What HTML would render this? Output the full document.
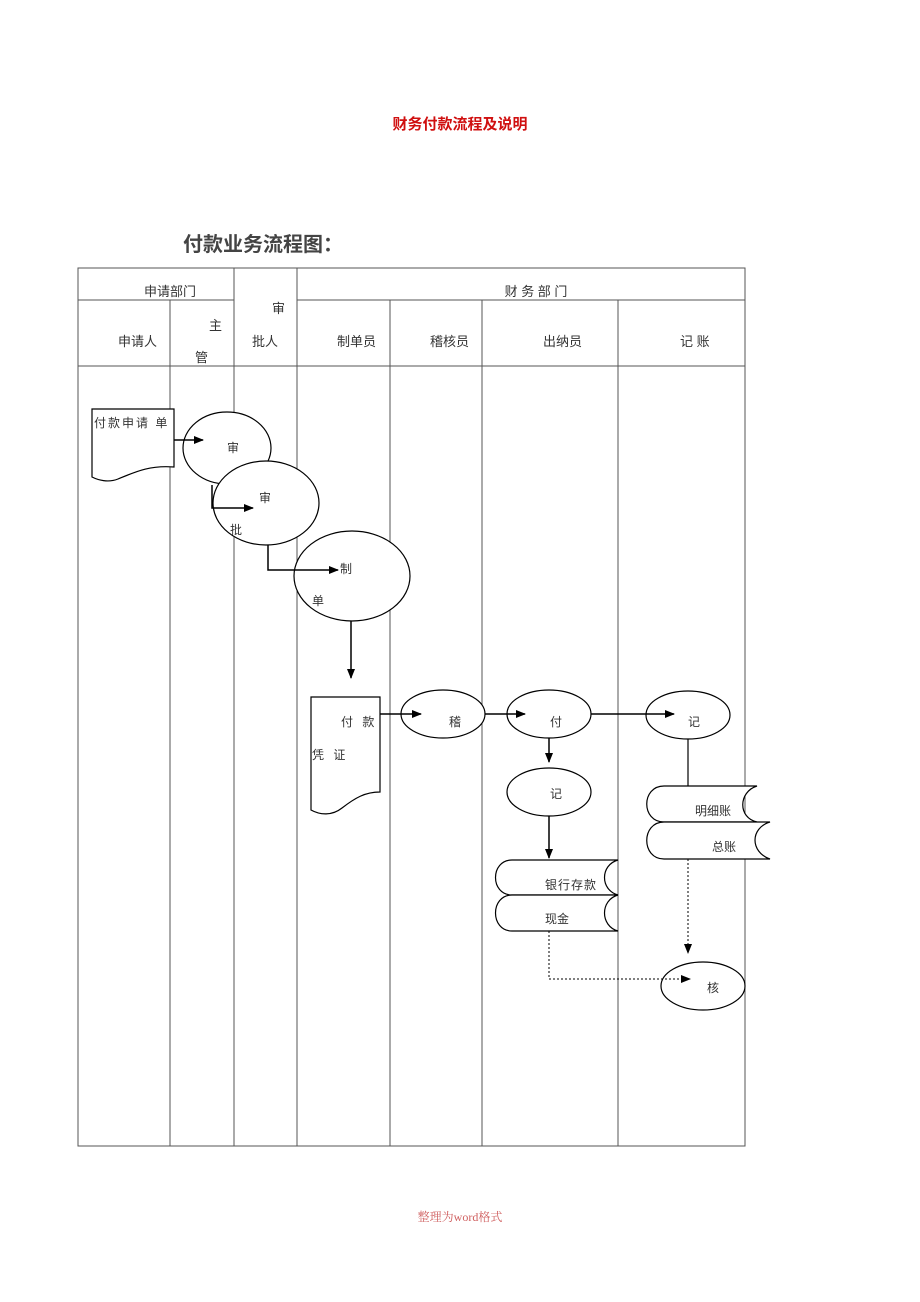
<!DOCTYPE html>
<html><head><meta charset="utf-8"><style>
html,body{margin:0;padding:0;background:#fff;width:920px;height:1302px;overflow:hidden}
svg{display:block}
text{font-family:"Liberation Sans","Noto Sans CJK SC",sans-serif;fill:#333}
</style></head><body>
<svg width="920" height="1302" viewBox="0 0 920 1302">
<defs><marker id="a" markerWidth="10" markerHeight="8" refX="9" refY="4" orient="auto" markerUnits="userSpaceOnUse"><path d="M0,0L10,4L0,8z" fill="#000"/></marker></defs>
<text x="460" y="129" font-size="15" font-weight="bold" text-anchor="middle" style="fill:#d01010">财务付款流程及说明</text>
<text x="183" y="251" font-size="20" font-weight="bold" style="fill:#444">付款业务流程图：</text>
<g stroke="#555" stroke-width="1" fill="none">
<rect x="78" y="268" width="667" height="878"/>
<line x1="78" y1="300" x2="234" y2="300"/><line x1="297" y1="300" x2="745" y2="300"/>
<line x1="78" y1="366" x2="745" y2="366"/>
<line x1="170" y1="300" x2="170" y2="1146"/><line x1="234" y1="268" x2="234" y2="1146"/>
<line x1="297" y1="268" x2="297" y2="1146"/><line x1="390" y1="300" x2="390" y2="1146"/>
<line x1="482" y1="300" x2="482" y2="1146"/><line x1="618" y1="300" x2="618" y2="1146"/>
</g>
<g font-size="13">
<text x="170" y="296" text-anchor="middle">申请部门</text>
<text x="536" y="296" text-anchor="middle">财 务 部 门</text>
<text x="118" y="346">申请人</text>
<text x="209" y="330">主</text><text x="195" y="362">管</text>
<text x="272" y="313">审</text><text x="252" y="346">批人</text>
<text x="337" y="346">制单员</text><text x="430" y="346">稽核员</text>
<text x="543" y="346">出纳员</text><text x="680" y="346">记 账</text>
</g>
<g stroke="#000" stroke-width="1.2" fill="#fff">
<path d="M92,409H174V467C150,465 135,472 118,479C108,483 98,480 92,477Z"/>
<ellipse cx="227" cy="448" rx="44" ry="36"/>
<ellipse cx="266" cy="503" rx="53" ry="42"/>
<ellipse cx="352" cy="576" rx="58" ry="45"/>
<path d="M311,697H380V792C365,792 355,798 342,808C332,816 320,815 311,810Z"/>
<ellipse cx="443" cy="714" rx="42" ry="24"/>
<ellipse cx="549" cy="714" rx="42" ry="24"/>
<ellipse cx="688" cy="715" rx="42" ry="24"/>
<ellipse cx="549" cy="792" rx="42" ry="24"/>
<ellipse cx="703" cy="986" rx="42" ry="24"/>
<path d="M512,860H618C600,865 600,890 618,895H512C490,895 490,860 512,860Z"/>
<path d="M512,895H618C600,900 600,926 618,931H512C490,931 490,895 512,895Z"/>
<path d="M664,786H757C738,792 738,818 757,822H664C641,822 641,786 664,786Z"/>
<path d="M664,822H770C750,828 750,852 770,859H664C641,859 641,822 664,822Z"/>
</g>
<g stroke="#000" stroke-width="1.5" fill="none" marker-end="url(#a)">
<path d="M174,440H203"/>
<path d="M212,485V508H253"/>
<path d="M268,545V570H338"/>
<path d="M351,621V678"/>
<path d="M380,714H421"/>
<path d="M485,714H525"/>
<path d="M591,714H674"/>
<path d="M549,738V762"/>
<path d="M549,816V858"/>
</g>
<line x1="688" y1="739" x2="688" y2="786" stroke="#000" stroke-width="1.2"/>
<g stroke="#000" stroke-width="1" stroke-dasharray="2,2" fill="none" marker-end="url(#a)">
<path d="M688,859V953"/>
<path d="M549,931V979H690"/>
</g>
<g font-size="12">
<text x="94" y="427" letter-spacing="2">付款申请 单</text>
<text x="227" y="452">审</text>
<text x="259" y="502">审</text><text x="230" y="534">批</text>
<text x="340" y="573">制</text><text x="312" y="605">单</text>
<text x="341" y="726" letter-spacing="3">付 款</text>
<text x="312" y="759" letter-spacing="3">凭 证</text>
<text x="449" y="726">稽</text><text x="550" y="726">付</text>
<text x="688" y="726">记</text><text x="550" y="798">记</text>
<text x="707" y="992">核</text>
<text x="545" y="889" letter-spacing="1">银行存款</text>
<text x="545" y="923">现金</text>
<text x="695" y="815">明细账</text>
<text x="712" y="851">总账</text>
</g>
<text x="460" y="1221" font-size="12" text-anchor="middle" style="fill:#d06060;font-family:'Liberation Serif','Noto Serif CJK SC',serif">整理为word格式</text>
</svg>
</body></html>
